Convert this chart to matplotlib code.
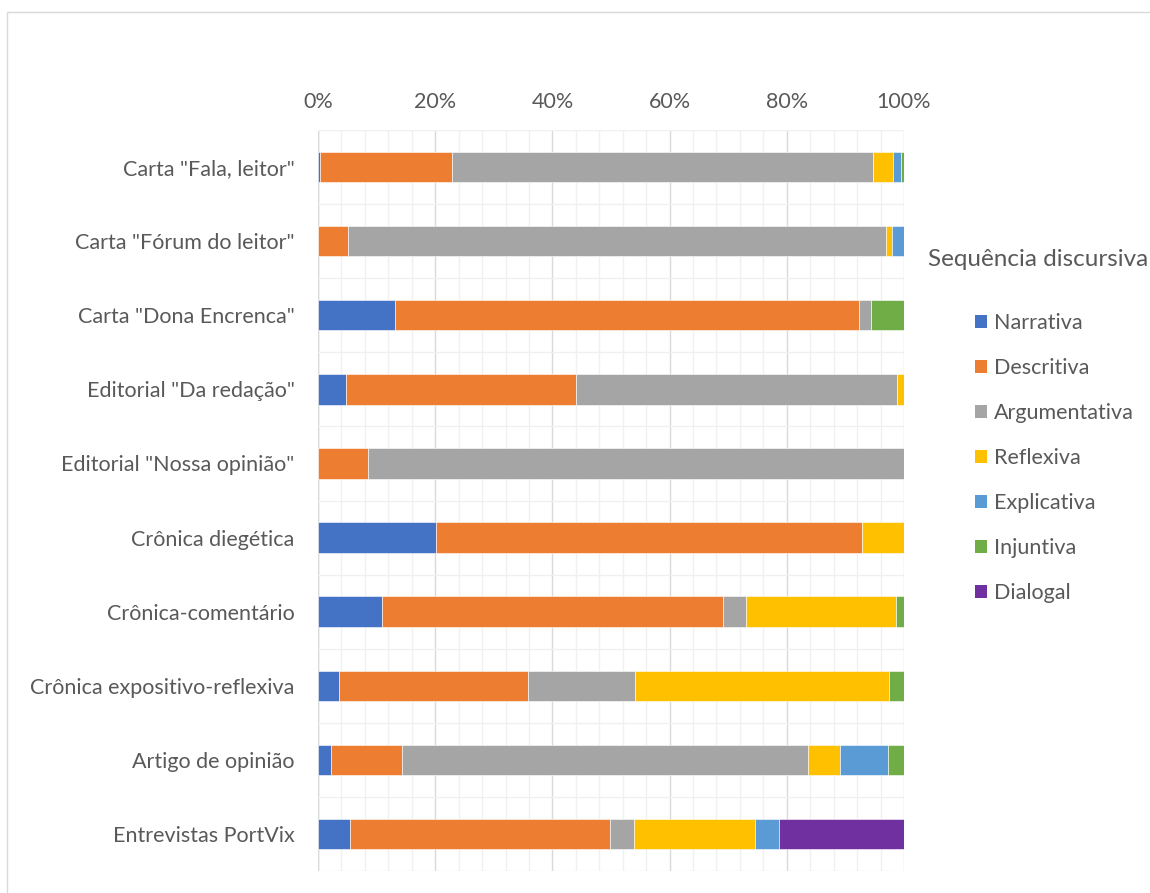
import matplotlib
matplotlib.use("Agg")
import matplotlib.pyplot as plt
from matplotlib.patches import Rectangle, Patch
from matplotlib.ticker import MultipleLocator, FuncFormatter
import numpy as np

categories = ['Carta "Fala, leitor"', 'Carta "Fórum do leitor"', 'Carta "Dona Encrenca"',
              'Editorial "Da redação"', 'Editorial "Nossa opinião"', 'Crônica diegética',
              'Crônica-comentário', 'Crônica expositivo-reflexiva', 'Artigo de opinião',
              'Entrevistas PortVix']
series_names = ['Narrativa', 'Descritiva', 'Argumentativa', 'Reflexiva', 'Explicativa', 'Injuntiva', 'Dialogal']

narrativa     = [0.3, 0.0, 13.1, 4.8, 0.0, 20.2, 11.0, 3.6, 2.2, 5.5]
descritiva    = [22.5, 5.1, 79.3, 39.2, 8.6, 72.7, 58.1, 32.3, 12.2, 44.3]
argumentativa = [71.9, 91.8, 1.9, 54.8, 91.4, 0.0, 3.9, 18.2, 69.3, 4.2]
reflexiva     = [3.4, 1.0, 0.0, 1.2, 0.0, 7.1, 25.7, 43.3, 5.4, 20.6]
explicativa   = [1.4, 2.1, 0.0, 0.0, 0.0, 0.0, 0.0, 0.0, 8.1, 4.0]
injuntiva     = [0.5, 0.0, 5.7, 0.0, 0.0, 0.0, 1.3, 2.6, 2.8, 0.0]
dialogal      = [0.0, 0.0, 0.0, 0.0, 0.0, 0.0, 0.0, 0.0, 0.0, 21.4]

colors = ['#4472C4', '#ED7D31', '#A5A5A5', '#FFC000', '#5B9BD5', '#70AD47', '#7030A0']

FONT = 'Lato'
plt.rcParams['font.family'] = [FONT, 'DejaVu Sans']
FS = 15.5

W, H = 1150, 893
fig = plt.figure(figsize=(W / 100, H / 100), dpi=100)
fig.patch.set_facecolor('white')

# outer chart border
fig.patches.append(Rectangle((7 / W, -0.05), 1.1, 1 - 12 / H + 0.05, transform=fig.transFigure,
                             fill=False, edgecolor='#d9d9d9', linewidth=1.0))

ax = fig.add_axes([318 / W, 1 - 871 / H, (904 - 318) / W, (871 - 130) / H])

data = np.array([narrativa, descritiva, argumentativa, reflexiva, explicativa, injuntiva, dialogal])
totals = data.sum(axis=0)
pct = data / totals * 100
y = np.arange(len(categories))
left = np.zeros(len(categories))
for i, name in enumerate(series_names):
    ax.barh(y, pct[i], left=left, height=0.41, color=colors[i], label=name,
            edgecolor='white', linewidth=0.4, zorder=3)
    left += pct[i]

ax.set_xlim(0, 100)
ax.set_ylim(len(categories) - 0.5, -0.5)
ax.set_yticks(y)
ax.set_yticklabels(categories)
ax.xaxis.set_major_locator(MultipleLocator(20))
ax.xaxis.set_minor_locator(MultipleLocator(4))
ax.xaxis.set_major_formatter(FuncFormatter(lambda v, p: f'{int(round(v))}%'))
ax.yaxis.set_minor_locator(MultipleLocator(1, offset=0.5))
ax.xaxis.tick_top()
ax.tick_params(axis='x', which='both', length=0, pad=13, labelsize=FS, labelcolor='#595959')
ax.tick_params(axis='y', which='both', length=0, pad=17, labelsize=FS, labelcolor='#595959')
ax.grid(which='major', axis='x', color='#d9d9d9', linewidth=1.0, zorder=0)
ax.grid(which='minor', axis='x', color='#f0f0f0', linewidth=1.0, zorder=0)
ax.grid(which='minor', axis='y', color='#f0f0f0', linewidth=1.0, zorder=0)
ax.grid(which='major', axis='y', visible=False)
for s in ax.spines.values():
    s.set_visible(False)
ax.axvline(0, color='#d9d9d9', linewidth=1.0, zorder=1)

fig.text(928 / W, 1 - 259 / H, 'Sequência discursiva', fontsize=17.5, color='#595959',
         ha='left', va='center')
handles = [Patch(facecolor=c, edgecolor='none') for c in colors]
leg = fig.legend(handles, series_names, loc='upper left',
                 bbox_to_anchor=(975 / W, 1 - 313 / H), frameon=False, fontsize=FS,
                 handlelength=0.56, handleheight=0.56, handletextpad=0.3,
                 labelspacing=1.16, borderaxespad=0, borderpad=0)
for t in leg.get_texts():
    t.set_color('#595959')

fig.savefig('out.png', dpi=100, facecolor='white')
